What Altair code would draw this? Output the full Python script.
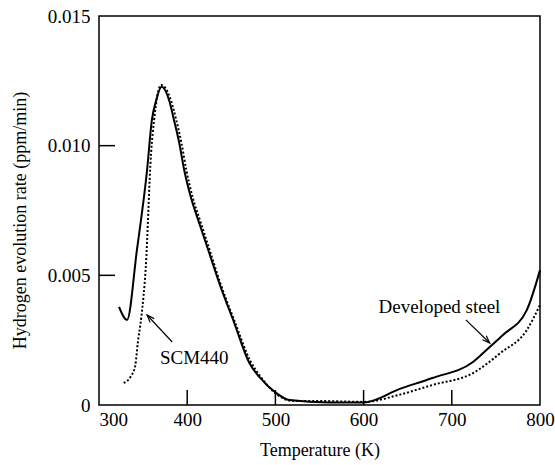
import altair as alt
import pandas as pd

# Developed steel (solid)
dev_T = [322.7, 331.8, 343, 354.5, 360, 364.8, 371, 379.5, 385, 391, 396.6, 404, 413.6, 425, 436.4, 453.4, 470.5, 481.8, 501, 516, 560, 601, 641, 678, 724, 743, 758, 785, 800]
dev_R = [0.00378, 0.00328, 0.00598, 0.00906, 0.0110, 0.01175, 0.01227, 0.01175, 0.01099, 0.0101, 0.00906, 0.00803, 0.00702, 0.00586, 0.0047, 0.00316, 0.00162, 0.00108, 0.00046, 0.00019, 0.0001, 0.0001, 0.00062, 0.00104, 0.00166, 0.00224, 0.0027, 0.00366, 0.0052]

# SCM440 (dotted)
scm_T = [328, 336, 341, 344, 348, 353, 359, 362.5, 366, 370.5, 380, 387.5, 393.5, 399, 406, 415.5, 426.5, 437.5, 454.5, 471.5, 483, 502, 519, 560, 601, 641, 678, 724, 755, 785, 800]
scm_R = [0.00085, 0.0011, 0.0015, 0.0024, 0.0034, 0.0053, 0.0097, 0.011, 0.0119, 0.01234, 0.0119, 0.011, 0.0101, 0.00906, 0.00803, 0.00702, 0.00586, 0.0047, 0.00316, 0.0017, 0.0011, 0.0004, 0.00016, 0.00015, 0.00012, 0.0004, 0.00077, 0.00123, 0.002, 0.00289, 0.00386]

x_ticks = [300, 400, 500, 600, 700, 800]
y_ticks = [0, 0.005, 0.010, 0.015]
x_inner_ticks = [400, 500, 600, 700]
y_inner_ticks = [0.005, 0.010]

ann_labels = ["SCM440", "Developed steel"]
ann_text_T = [408, 686]
ann_text_R = [0.00181, 0.00378]
ann_from_T = [383, 716]
ann_from_R = [0.00243, 0.00328]
ann_to_T = [354.5, 743]
ann_to_R = [0.00347, 0.00239]
ann_angle = [317, 134]

W, H = 441, 389
FONT = "Liberation Serif"

dev = pd.DataFrame({"T": dev_T, "R": dev_R})
scm = pd.DataFrame({"T": scm_T, "R": scm_R})
ann = pd.DataFrame({"label": ann_labels, "tx": ann_text_T, "ty": ann_text_R,
                    "x1": ann_from_T, "y1": ann_from_R, "x2": ann_to_T, "y2": ann_to_R,
                    "ang": ann_angle})

xs = alt.Scale(domain=[300, 800], nice=False, zero=False)
ys = alt.Scale(domain=[0, 0.015], nice=False)

x_axis = alt.Axis(values=x_ticks, ticks=False, domain=False, grid=False,
                  labelFont=FONT, labelFontSize=19, labelColor="black", labelPadding=5,
                  labelAlign=alt.expr("datum.value == 300 ? 'left' : 'center'"),
                  title="Temperature (K)", titleFont=FONT, titleFontSize=18,
                  titleFontWeight="normal", titleColor="black", titleY=45,
                  titleBaseline="middle")
y_axis = alt.Axis(values=y_ticks, ticks=False, domain=False, grid=False,
                  labelFont=FONT, labelFontSize=19, labelColor="black", labelPadding=9,
                  labelExpr="datum.value == 0 ? '0' : format(datum.value, '.3f')",
                  title="Hydrogen evolution rate (ppm/min)", titleFont=FONT, titleFontSize=18,
                  titleFontWeight="normal", titleColor="black", titleX=-79, titleY=204,
                  titleAngle=-90, titleBaseline="middle", titleAlign="center")

line_dev = alt.Chart(dev).mark_line(color="black", strokeWidth=2, interpolate="monotone").encode(
    x=alt.X("T:Q", scale=xs, axis=x_axis),
    y=alt.Y("R:Q", scale=ys, axis=y_axis),
)
line_scm = alt.Chart(scm).mark_line(color="black", strokeWidth=2, strokeDash=[2, 2],
                                    interpolate="monotone").encode(
    x=alt.X("T:Q", scale=xs),
    y=alt.Y("R:Q", scale=ys),
)

xt = alt.Chart(pd.DataFrame({"v": x_inner_ticks})).mark_rule(color="black", strokeWidth=1.5).encode(
    x=alt.X("v:Q", scale=xs), y=alt.value(H), y2=alt.value(H - 15))
yt = alt.Chart(pd.DataFrame({"v": y_inner_ticks})).mark_rule(color="black", strokeWidth=1.5).encode(
    y=alt.Y("v:Q", scale=ys), x=alt.value(0), x2=alt.value(16))

ann_line = alt.Chart(ann).mark_rule(color="black", strokeWidth=1.2).encode(
    x=alt.X("x1:Q", scale=xs), y=alt.Y("y1:Q", scale=ys), x2="x2:Q", y2="y2:Q")
ann_head = alt.Chart(ann).mark_point(shape="M-0.55,1.5L0,0L0.55,1.5", filled=False,
                                     color="black", strokeWidth=1.2, size=100, opacity=1).encode(
    x=alt.X("x2:Q", scale=xs), y=alt.Y("y2:Q", scale=ys), angle=alt.Angle("ang:Q", scale=None))
ann_text = alt.Chart(ann).mark_text(font=FONT, fontSize=19, color="black").encode(
    x=alt.X("tx:Q", scale=xs), y=alt.Y("ty:Q", scale=ys), text="label:N")

chart = alt.layer(line_dev, line_scm, xt, yt, ann_line, ann_head, ann_text).properties(
    width=W, height=H,
    autosize=alt.AutoSizeParams(type="none"),
    padding={"left": 99, "top": 16, "right": 15, "bottom": 60},
    background="white",
).configure_view(stroke="black", strokeWidth=1.5)

chart.save("out.html", embed_options={"renderer": "svg", "actions": False})
